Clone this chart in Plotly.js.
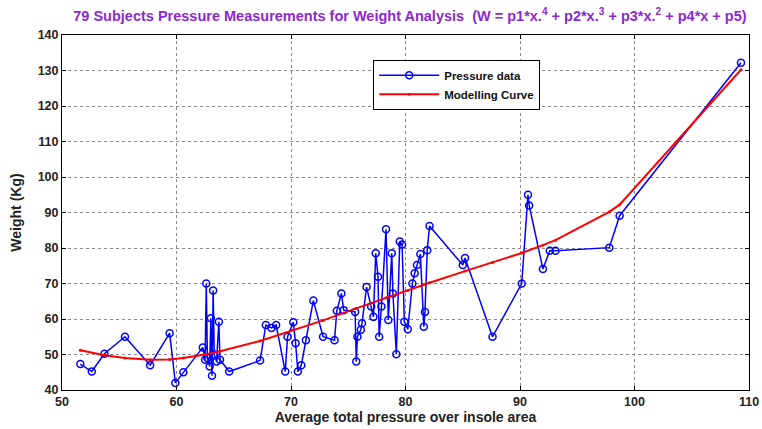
<!DOCTYPE html>
<html>
<head>
<meta charset="utf-8">
<script src="https://cdn.plot.ly/plotly-3.0.1.min.js"></script>
<style>html,body{margin:0;padding:0;background:#fff;}#chart{width:762px;height:429px;}</style>
</head>
<body>
<div id="chart"></div>
<script>
// Measured pressure (x) and weight (y) for the subjects
const pressure = [51.6,52.6,53.7,55.5,57.7,59.4,59.9,60.6,62.3,62.5,62.6,62.7,62.9,63.0,63.1,63.2,63.3,63.5,63.7,63.8,
  64.6,67.3,67.8,68.3,68.7,69.5,69.7,70.2,70.4,70.6,70.9,71.3,71.95,72.8,73.8,74.0,74.4,74.6,75.6,75.7,
  75.8,76.1,76.2,76.6,77.0,77.2,77.4,77.6,77.7,77.9,78.3,78.5,78.8,78.9,79.2,79.5,79.7,79.9,80.2,80.6,
  80.8,81.0,81.3,81.6,81.7,81.9,82.1,85.0,85.2,87.6,90.15,90.7,90.8,92.0,92.6,93.1,97.8,98.7,109.3];
const weight = [47.3,45.2,50.2,55,47,56,42,45,52,48.5,70,49,46.6,60.2,44,68,50,48,59.2,48.5,
  45.2,48.3,58.3,57.5,58.3,45.2,55,59.1,53.2,45.2,47,54,65.2,55,54,62.3,67.2,62.5,62,48,
  55,57,58.8,69,63.5,60.6,78.5,71.9,55,63.5,85.3,59.7,78.5,67.2,50.1,81.8,81,59.2,57.1,70,
  72.9,75.2,78.3,57.8,62,79.4,86.2,75.2,77.2,55,70,95,92,74.1,79.2,79.2,80.1,89.1,132.2];
// Modelling curve values
const modelX = [51.6,53.7,55.5,57.7,59.4,60.6,62.5,63.8,67.3,70.2,72.8,75.7,78.3,80.2,82.1,85.2,87.6,90.15,92.0,93.1,97.8,98.7,109.3];
const modelY = [51.2,49.8,49.0,48.5,48.6,49.0,50.0,50.9,53.8,56.9,59.6,63.0,66.0,68.0,70.2,73.5,75.9,78.6,80.8,82.2,90.2,92.2,130.2];
const xTicks = [50,60,70,80,90,100,110];
const yTicks = [40,50,60,70,80,90,100,110,120,130,140];

const traces = [
  {x: pressure, y: weight, name: 'Pressure data', type: 'scatter', mode: 'lines+markers',
   line: {color: 'rgb(0,0,255)', width: 1.5},
   marker: {symbol: 'circle-open', size: 7, color: 'rgb(0,0,255)', line: {width: 1.5}}},
  {x: modelX, y: modelY, name: 'Modelling Curve', type: 'scatter', mode: 'lines+markers',
   line: {color: 'rgb(255,0,0)', width: 2},
   marker: {symbol: 'circle', size: 3, color: 'rgb(255,0,0)'}}
];

const axisCommon = {
  showline: true, linecolor: '#000', linewidth: 1, mirror: 'ticks',
  ticks: 'inside', ticklen: 4, tickcolor: '#000',
  showgrid: true, gridcolor: '#8a8a8a', griddash: 'dot', gridwidth: 1,
  zeroline: false,
  tickfont: {family: 'Arial, Liberation Sans', size: 12.5, color: '#222', weight: 'bold'}
};

const layout = {
  width: 762, height: 429,
  paper_bgcolor: '#fff', plot_bgcolor: '#fff',
  margin: {l: 62, r: 13, t: 35, b: 39},
  title: {text: '79 Subjects Pressure Measurements for Weight Analysis  (W = p1*x.<sup>4</sup> + p2*x.<sup>3</sup> + p3*x.<sup>2</sup> + p4*x + p5)',
          font: {family: 'Arial, Liberation Sans', size: 14.5, color: 'rgb(140,40,210)', weight: 'bold'},
          x: 0.538, xanchor: 'center', y: 0.962, yanchor: 'middle'},
  xaxis: Object.assign({}, axisCommon, {range: [50, 110], tickvals: xTicks,
    title: {text: 'Average total pressure over insole area', standoff: 4,
            font: {family: 'Arial, Liberation Sans', size: 14, color: '#222', weight: 'bold'}}}),
  yaxis: Object.assign({}, axisCommon, {range: [40, 140], tickvals: yTicks,
    title: {text: 'Weight (Kg)', standoff: 12,
            font: {family: 'Arial, Liberation Sans', size: 14, color: '#222', weight: 'bold'}}}),
  showlegend: true,
  legend: {x: 0.453, y: 0.93, xanchor: 'left', yanchor: 'top',
           bgcolor: '#fff', bordercolor: '#000', borderwidth: 1,
           font: {family: 'Arial, Liberation Sans', size: 11.5, color: '#111', weight: 'bold'},
           tracegroupgap: 0, itemwidth: 60}
};

Plotly.newPlot('chart', traces, layout, {displayModeBar: false, staticPlot: true});
</script>
</body>
</html>
